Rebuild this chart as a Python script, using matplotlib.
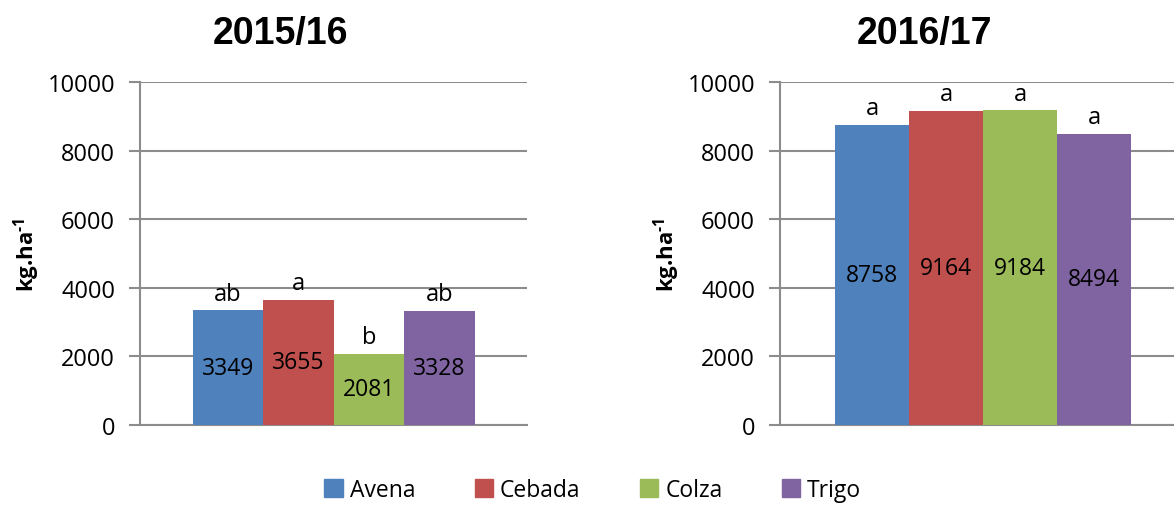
import matplotlib.pyplot as plt
from matplotlib.patches import Patch

plt.rcParams['font.family'] = ['Open Sans', 'DejaVu Sans']
# only the y label uses mathtext, so its roman font can be bold
plt.rcParams['mathtext.fontset'] = 'custom'
plt.rcParams['mathtext.rm'] = 'Open Sans:bold'
plt.rcParams['mathtext.bf'] = 'Open Sans:bold'

# data
cultivos = ['Avena', 'Cebada', 'Colza', 'Trigo']
colores = ['#4F81BD', '#C0504D', '#9BBB59', '#8064A2']
rend_1516 = [3349, 3655, 2081, 3328]
letras_1516 = ['ab', 'a', 'b', 'ab']
rend_1617 = [8758, 9164, 9184, 8494]
letras_1617 = ['a', 'a', 'a', 'a']
campanias = ['2015/16', '2016/17']
yticks = [0, 2000, 4000, 6000, 8000, 10000]

fig = plt.figure(figsize=(11.74, 5.06), dpi=100)
ax1 = fig.add_axes([0.1193, 0.158, 0.330, 0.678])
ax2 = fig.add_axes([0.6644, 0.158, 0.346, 0.678])

grey = '#8c8c8c'

for ax, vals, letras, titulo, tx in [(ax1, rend_1516, letras_1516, campanias[0], 0.362),
                                     (ax2, rend_1617, letras_1617, campanias[1], 0.355)]:
    x = range(len(cultivos))
    bars = ax.bar(x, vals, width=1.0, color=colores, zorder=3)
    for b, v, l in zip(bars, vals, letras):
        cx = b.get_x() + b.get_width() / 2
        ax.text(cx, v / 2, str(v), ha='center', va='center', fontsize=16.5, zorder=4)
        ax.text(cx, v + 130, l, ha='center', va='bottom', fontsize=17, zorder=4)
    ax.set_xlim(-1.245, 4.245)
    ax.set_ylim(0, 10000)
    ax.set_yticks(yticks)
    ax.set_xticks([])
    ax.yaxis.grid(True, color=grey, linewidth=1.5, zorder=0)
    for s in ['top', 'right']:
        ax.spines[s].set_visible(False)
    ax.spines['left'].set_color(grey)
    ax.spines['bottom'].set_color(grey)
    ax.spines['left'].set_linewidth(1.5)
    ax.spines['bottom'].set_linewidth(1.5)
    ax.tick_params(axis='y', length=8, width=1.5, color=grey, labelsize=17, pad=10)
    ax.set_ylabel(r'$\text{kg.ha}^{\text{-1}}$', fontsize=16, labelpad=4)
    ax.set_title(titulo, fontsize=27, fontweight='bold', family='Liberation Sans',
                 x=tx, pad=28)

handles = [Patch(color=c, label=n) for c, n in zip(colores, cultivos)]
fig.legend(handles=handles, loc='lower center', bbox_to_anchor=(0.505, -0.035), ncol=4,
           frameon=False, fontsize=16.5, handlelength=0.8, handleheight=0.8,
           handletextpad=0.3, columnspacing=2.6)

fig.savefig('out.png', dpi=100)
